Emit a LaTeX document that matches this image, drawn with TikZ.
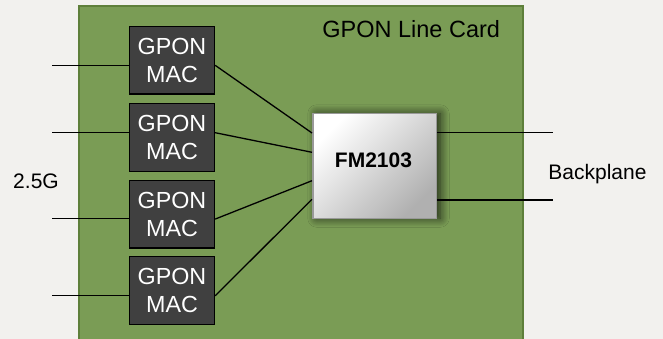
\documentclass[tikz,border=0pt]{standalone}
\usepackage{fontspec}
\setmainfont{Liberation Sans}
\usetikzlibrary{shadows.blur}
\definecolor{bgc}{HTML}{F2F1EE}
\definecolor{cardc}{HTML}{7A9C55}
\definecolor{cardb}{HTML}{5E7F3A}
\definecolor{macc}{HTML}{404040}
\definecolor{fmb}{HTML}{999999}
\definecolor{fmg}{HTML}{B0B0B0}
\tikzset{
  macbox/.style={draw=black, line width=1.3pt, fill=macc, minimum width=85pt, minimum height=67.5pt, inner sep=0pt, text=white, align=center, font=\fontsize{23.3}{28}\selectfont},
  fmbox/.style={draw=fmb, line width=1.5pt, minimum width=123.5pt, minimum height=104.5pt, inner sep=0pt, top color=white, bottom color=fmg, shading angle=45, blur shadow={shadow xshift=4pt, shadow yshift=0pt, shadow blur radius=9pt, shadow blur steps=12, shadow opacity=75}},
  wire/.style={draw=black, line width=1.3pt},
  lbl/.style={inner sep=0pt, anchor=base, font=\fontsize{21}{25}\selectfont},
}
\begin{document}
\begin{tikzpicture}[x=1pt,y=-1pt]
\useasboundingbox (0,0) rectangle (663,339);
\fill[bgc] (0,0) rectangle (663,339);
\draw[cardb, line width=1.5pt, fill=cardc] (79,6) rectangle (523,345);
\node[lbl, font=\fontsize{23.5}{28}\selectfont] (title) at (411.2,37.7) {GPON Line Card};
\node[macbox] (mac1) at (172,60.4) {GPON\\MAC};
\node[macbox] (mac2) at (172,137.5) {GPON\\MAC};
\node[macbox] (mac3) at (172,214.1) {GPON\\MAC};
\node[macbox] (mac4) at (172,290.4) {GPON\\MAC};
\node[fmbox] (fm) at (374.5,166) {};
\node[lbl, font=\bfseries\fontsize{21}{25}\selectfont] (fmlabel) at (373.5,167.3) {FM2103};
\node[lbl] (rate) at (36,188.3) {2.5G};
\node[lbl] (bp) at (597.5,179.3) {Backplane};
\coordinate (l1) at (52,65.3);
\coordinate (l2) at (52,132.2);
\coordinate (l3) at (52,218.7);
\coordinate (l4) at (52,295.7);
\coordinate (r1) at (553,132.7);
\coordinate (r2) at (553,200);
\draw[wire] (l1) -- (l1 -| mac1.west);
\draw[wire] (l2) -- (l2 -| mac2.west);
\draw[wire] (l3) -- (l3 -| mac3.west);
\draw[wire] (l4) -- (l4 -| mac4.west);
\draw[wire] ([yshift=-4.9pt]mac1.east) -- ([yshift=33pt]fm.west);
\draw[wire] ([yshift=4.8pt]mac2.east) -- ([yshift=13.7pt]fm.west);
\draw[wire] ([yshift=-5pt]mac3.east) -- ([yshift=-14.7pt]fm.west);
\draw[wire] ([yshift=-5.4pt]mac4.east) -- ([yshift=-33.3pt]fm.west);
\draw[wire] (fm.east |- r1) -- (r1);
\draw[wire] (fm.east |- r2) -- (r2);
\end{tikzpicture}
\end{document}
